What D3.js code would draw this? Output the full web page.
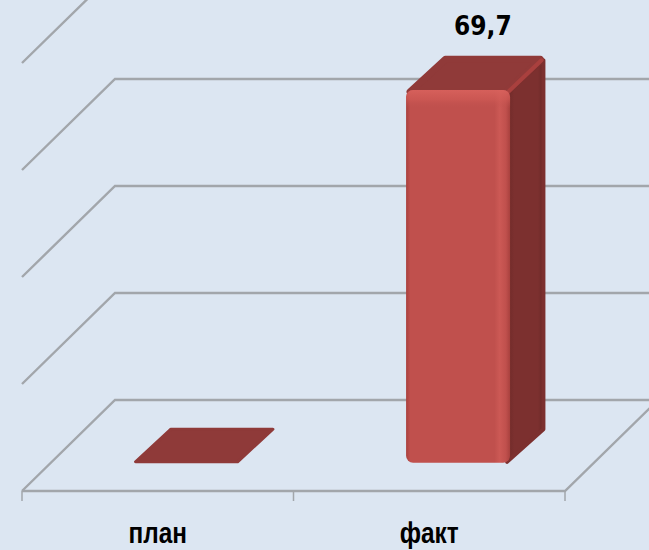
<!DOCTYPE html>
<html>
<head>
<meta charset="utf-8">
<script src="https://cdn.jsdelivr.net/npm/d3@7"></script>
<style>
  html, body { margin:0; padding:0; background:#dce6f2; }
  svg { display:block; }
</style>
</head>
<body>
<svg id="chart" width="649" height="550"></svg>
<script>
const categories = ["план", "факт"];
const values = [0, 69.7];
const valueLabels = [null, "69,7"];
const gridTicks = [0, 20, 40, 60, 80];

const W = 649, H = 550;
const svg = d3.select("#chart");
// oblique 3d: front plane + depth vector
const front = { left:22, right:565, floor:491 };
const depth = { dx:93, dy:-91 };
const barZ0 = 0.31, barZ1 = 0.69;

const x = d3.scaleBand().domain(categories).range([front.left, front.right]).paddingInner(0).paddingOuter(0);
const y = d3.scaleLinear().domain([0, 80]).range([front.floor, front.floor - 428]);
const barW = 104;

svg.append("rect").attr("width",W).attr("height",H).attr("fill","#dce6f2");

const defs = svg.append("defs");
const gFront = defs.append("linearGradient").attr("id","gFront").attr("x1","0").attr("x2","1").attr("y1","0").attr("y2","0");
[[0,"#a9403d"],[0.04,"#c0504d"],[0.85,"#c0504d"],[0.9,"#cc5955"],[0.96,"#c0504d"],[1,"#a8413e"]]
  .forEach(([o,c])=> gFront.append("stop").attr("offset",o).attr("stop-color",c));
const gFrontV = defs.append("linearGradient").attr("id","gFrontV").attr("x1","0").attr("x2","0").attr("y1","0").attr("y2","1");
[[0,"#d9625d",0.9],[0.025,"#d35c57",0.6],[0.05,"#c0504d",0],[1,"#c0504d",0]]
  .forEach(([o,c,a])=> gFrontV.append("stop").attr("offset",o).attr("stop-color",c).attr("stop-opacity",a));
const gSide = defs.append("linearGradient").attr("id","gSide").attr("x1","0").attr("x2","1").attr("y1","0").attr("y2","0");
[[0,"#6e2a29"],[0.2,"#7c302f"],[0.85,"#7c302f"],[1,"#6a2927"]]
  .forEach(([o,c])=> gSide.append("stop").attr("offset",o).attr("stop-color",c));

// grid: left wall diagonals + back wall lines
const grid = svg.append("g").attr("fill","none").attr("stroke","#a2a6ab").attr("stroke-width",2.4);
gridTicks.forEach(t=>{
  const yf = y(t);
  grid.append("path").attr("d", d3.line()([
    [front.left, yf],
    [front.left + depth.dx, yf + depth.dy],
    [front.right + depth.dx + 20, yf + depth.dy]
  ]));
});
// floor edges
grid.append("path").attr("d", d3.line()([
  [front.left, front.floor], [front.right, front.floor], [front.right + depth.dx, front.floor + depth.dy]
]));
// category ticks
const ticks = x.domain().map(d=> x(d)).concat([front.right]);
svg.append("g").attr("stroke","#a2a6ab").attr("stroke-width",1.5)
  .selectAll("line").data(ticks).join("line")
  .attr("x1",d=>d).attr("x2",d=>d).attr("y1",front.floor).attr("y2",front.floor+10);

// bars
const bars = svg.append("g");
categories.forEach((c,i)=>{
  const v = values[i];
  const x0 = x(c) + x.bandwidth()/2 - barW/2 + barZ0*depth.dx;
  const x1 = x0 + barW;
  const yb = front.floor + barZ0*depth.dy;
  const yt = y(v) + barZ0*depth.dy;
  const ddx = (barZ1-barZ0)*depth.dx, ddy = (barZ1-barZ0)*depth.dy;
  const g = bars.append("g");
  if (yb - yt < 1){
    g.append("path").attr("fill","#8f3a39").attr("stroke","#8f3a39").attr("stroke-width",3).attr("stroke-linejoin","round")
      .attr("d", d3.line()([[x0+1,yb-1],[x1-1,yb-1],[x1+ddx-1,yb+ddy+1],[x0+ddx+1,yb+ddy+1]]) + "Z");
    return;
  }
  // side face
  g.append("path").attr("fill","url(#gSide)").attr("stroke","#7c302f").attr("stroke-width",4).attr("stroke-linejoin","round")
    .attr("d", d3.line()([[x1-3,yt+3],[x1+ddx-2,yt+ddy+5],[x1+ddx-2,yb+ddy+1],[x1-3,yb-1]]) + "Z");
  // top face
  g.append("path").attr("fill","#903a39").attr("stroke","#903a39").attr("stroke-width",7).attr("stroke-linejoin","round")
    .attr("d", d3.line()([[x0+4,yt+2],[x1-4,yt+2],[x1+ddx-5,yt+ddy+4],[x0+ddx+4,yt+ddy+4]]) + "Z");
  g.append("path").attr("fill","none").attr("stroke","#a9403e").attr("stroke-width",4).attr("stroke-linecap","round")
    .attr("d", d3.line()([[x1-3,yt+3],[x1+ddx-4,yt+ddy+5]]));
  // front face
  g.append("rect").attr("x",x0).attr("y",yt).attr("width",barW).attr("height",yb-yt).attr("rx",7)
    .attr("fill","url(#gFront)");
  g.append("rect").attr("x",x0).attr("y",yt).attr("width",barW).attr("height",yb-yt).attr("rx",7)
    .attr("fill","url(#gFrontV)");
  if (valueLabels[i]){
    svg.append("text").attr("x", x0 + barW/2 + ddx*0.7).attr("y", yt + ddy - 20)
      .attr("text-anchor","middle").attr("font-family","'DejaVu Sans Condensed', 'DejaVu Sans', sans-serif")
      .attr("font-stretch","condensed").attr("font-weight","bold").attr("font-size",26).attr("fill","#000")
      .text(valueLabels[i]);
  }
});

// category labels (narrowed)
svg.append("g").selectAll("text").data(categories).join("text")
  .attr("transform", d=> `translate(${x(d) + x.bandwidth()/2},543) scale(0.84,1)`)
  .attr("text-anchor","middle").attr("font-family","'Liberation Sans', Arial, sans-serif")
  .attr("font-weight","bold").attr("font-size",29).attr("fill","#000")
  .text(d=>d);
</script>
</body>
</html>
